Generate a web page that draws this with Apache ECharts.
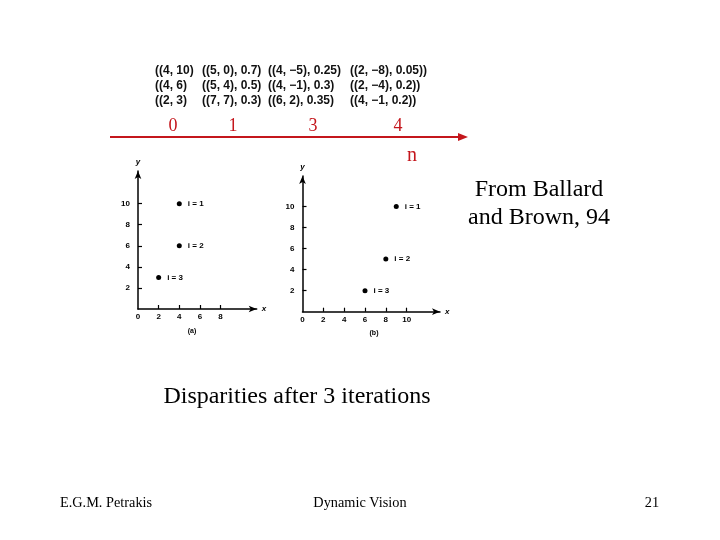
<!DOCTYPE html>
<html>
<head>
<meta charset="utf-8">
<script src="https://cdn.jsdelivr.net/npm/echarts@6/dist/echarts.min.js"></script>
<style>
  html, body { margin: 0; padding: 0; background: #fff; }
  #chart { width: 720px; height: 540px; }
</style>
</head>
<body>
<div id="chart"></div>
<script>
// disparity estimates per iteration (rows = points i=1..3, columns = iterations 0,1,3,4)
const iterLabels = ['0', '1', '3', '4']
const tableRows = [
  ['((4, 10)', '((5, 0), 0.7)', '((4, \u22125), 0.25)', '((2, \u22128), 0.05))'],
  ['((4, 6)', '((5, 4), 0.5)', '((4, \u22121), 0.3)', '((2, \u22124), 0.2))'],
  ['((2, 3)', '((7, 7), 0.3)', '((6, 2), 0.35)', '((4, \u22121, 0.2))']
]

// plot (a) and plot (b) points
const pointNames = ['i = 1', 'i = 2', 'i = 3']
const pointsA = [[4, 10], [4, 6], [2, 3]]
const pointsB = [[9, 10], [8, 5], [6, 2]]

const xTicksA = [2, 4, 6, 8]
const xTicksB = [2, 4, 6, 8, 10]
const yTicks = [2, 4, 6, 8, 10]

const serif = '"Liberation Serif", "Times New Roman", serif'
const sans = '"Liberation Sans", Arial, sans-serif'
const red = '#c4161c'

const chart = echarts.init(document.getElementById('chart'))

const makeX = (gridIndex, max, ticks) => ({
  type: 'value',
  gridIndex,
  min: 0,
  max,
  name: 'x',
  nameGap: 5,
  nameTextStyle: { fontFamily: sans, fontSize: 8, fontWeight: 'bold', fontStyle: 'italic', color: '#000', padding: [6, 0, 0, 0] },
  splitLine: { show: false },
  axisLine: { lineStyle: { color: '#000', width: 1.5 }, symbol: ['none', 'arrow'], symbolSize: [5, 8] },
  axisTick: { inside: true, length: 4, customValues: ticks, lineStyle: { color: '#000', width: 1.2 } },
  axisLabel: { customValues: [0].concat(ticks), margin: 4, fontFamily: sans, fontSize: 8, fontWeight: 'bold', color: '#000' }
})

const makeY = (gridIndex, max) => ({
  type: 'value',
  gridIndex,
  min: 0,
  max,
  name: 'y',
  nameGap: 5,
  nameTextStyle: { fontFamily: sans, fontSize: 8, fontWeight: 'bold', fontStyle: 'italic', color: '#000' },
  splitLine: { show: false },
  axisLine: { lineStyle: { color: '#000', width: 1.5 }, symbol: ['none', 'arrow'], symbolSize: [5, 8] },
  axisTick: { inside: true, length: 4, customValues: yTicks, lineStyle: { color: '#000', width: 1.2 } },
  axisLabel: { customValues: yTicks, margin: 8, fontFamily: sans, fontSize: 8, fontWeight: 'bold', color: '#000' }
})

const makeSeries = (idx, pts) => ({
  type: 'scatter',
  xAxisIndex: idx,
  yAxisIndex: idx,
  symbolSize: 5,
  itemStyle: { color: '#000', opacity: 1 },
  data: pts.map((p, i) => ({ value: p, name: pointNames[i] })),
  label: {
    show: true,
    position: 'right',
    distance: 6,
    formatter: '{b}',
    fontFamily: sans,
    fontSize: 8,
    fontWeight: 'bold',
    color: '#000'
  }
})

// table text
const colX = [155, 202, 268, 350]
const rowY = [70.5, 85.5, 100.5]
const tableText = []
tableRows.forEach((row, r) => {
  row.forEach((t, c) => {
    tableText.push({
      type: 'text', x: colX[c], y: rowY[r],
      style: { text: t, font: 'bold 12px ' + sans, fill: '#111', textVerticalAlign: 'middle' }
    })
  })
})

const iterX = [173, 233, 313, 398]
const iterText = iterLabels.map((t, i) => ({
  type: 'text', x: iterX[i], y: 126,
  style: { text: t, font: '18px ' + serif, fill: red, textAlign: 'center', textVerticalAlign: 'middle' }
}))

const centered = (text, x, y, size) => ({
  type: 'text', x, y,
  style: { text, font: size + 'px ' + serif, fill: '#000', textAlign: 'center', textVerticalAlign: 'middle' }
})

chart.setOption({
  backgroundColor: '#fff',
  animation: false,
  grid: [
    { left: 138, top: 171, width: 118.7, height: 138 },
    { left: 302.5, top: 176, width: 137.5, height: 135.7 }
  ],
  xAxis: [makeX(0, 11.5, xTicksA), makeX(1, 13.2, xTicksB)],
  yAxis: [makeY(0, 13.1), makeY(1, 12.9)],
  series: [makeSeries(0, pointsA), makeSeries(1, pointsB)],
  graphic: tableText.concat(iterText, [
    { type: 'line', shape: { x1: 110, y1: 137, x2: 460, y2: 137 }, style: { stroke: red, lineWidth: 2 } },
    { type: 'polygon', shape: { points: [[468, 137], [458, 133], [458, 141]] }, style: { fill: red } },
    { type: 'text', x: 412, y: 156, style: { text: 'n', font: '20px ' + serif, fill: red, textAlign: 'center', textVerticalAlign: 'middle' } },
    { type: 'text', x: 192, y: 331, style: { text: '(a)', font: 'bold 7px ' + sans, fill: '#000', textAlign: 'center', textVerticalAlign: 'middle' } },
    { type: 'text', x: 374, y: 333, style: { text: '(b)', font: 'bold 7px ' + sans, fill: '#000', textAlign: 'center', textVerticalAlign: 'middle' } },
    centered('From Ballard', 539, 190, 24),
    centered('and Brown, 94', 539, 218, 24),
    centered('Disparities after 3 iterations', 297, 397, 24),
    centered('E.G.M. Petrakis', 106, 503, 14.3),
    centered('Dynamic Vision', 360, 503, 14.3),
    centered('21', 652, 503, 14.3)
  ])
})
</script>
</body>
</html>
